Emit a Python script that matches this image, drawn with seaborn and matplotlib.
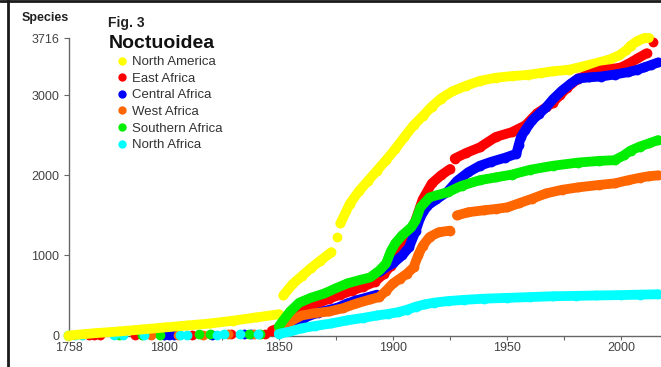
import numpy as np
import pandas as pd
import matplotlib
matplotlib.use("Agg")
import matplotlib.pyplot as plt
from matplotlib.lines import Line2D
import seaborn as sns

nan = np.nan

regions = ["North America", "East Africa", "Central Africa",
           "West Africa", "Southern Africa", "North Africa"]
colors = ["#ffff00", "#ff0000", "#0000ff", "#ff6600", "#00ee00", "#00ffff"]

# Isolated early descriptions (drawn as single dots)
na_early_years, na_early_counts = [], []
ea_early_years = [1767, 1769, 1772, 1787, 1812, 1829, 1844]
ea_early_counts = [3, 5, 7, 9, 12, 15, 22]
ca_early_years = [1800, 1802, 1804, 1821, 1835, 1838]
ca_early_counts = [4, 6, 8, 11, 15, 18]
wa_early_years = [1794, 1806, 1817, 1828, 1839]
wa_early_counts = [5, 8, 12, 16, 22]
sa_early_years = [1780, 1790, 1798, 1815, 1820, 1837, 1842]
sa_early_counts = [4, 7, 9, 13, 15, 20, 24]
nf_early_years = [1758, 1761, 1764, 1778, 1782, 1791, 1807, 1810, 1823, 1826,
                  1833, 1841]
nf_early_counts = [1, 2, 3, 5, 6, 7, 9, 10, 12, 13, 14, 17]

# Cumulative species counts; nan marks a break in the run
na_years = [1758, 1770, 1780, 1790, 1800, 1810, 1820, 1830, 1840, 1850, nan,
            1852, 1856, 1860, 1864, 1868, 1873, nan, 1875.5, nan,
            1877, 1881, 1885, 1889, 1893, 1897, 1901, 1905, 1909, 1913, 1917,
            1921, 1926, 1932, 1938, 1945, 1952, 1959, 1965, 1970, 1977, 1983,
            1990, 1995, 1999, 2002, 2004, 2007, 2010, 2012]
na_counts = [0, 30, 50, 75, 100, 125, 150, 185, 225, 265, nan,
             500, 640, 740, 840, 930, 1040, nan, 1225, nan,
             1400, 1640, 1800, 1930, 2060, 2190, 2330, 2480, 2625, 2740, 2860,
             2960, 3050, 3120, 3180, 3220, 3240, 3255, 3280, 3300, 3320, 3360,
             3410, 3450, 3500, 3560, 3620, 3680, 3716, 3716]

ea_years = [1847, 1850, 1853, 1857, 1862, 1867, 1872, 1877, 1882, 1887, 1892,
            1896, 1899, 1902, 1905, 1908, 1910, 1913, 1917, 1921, 1925, nan,
            1927, 1932, 1938, 1945, 1952, 1958, 1963, 1967, 1970, 1973, 1976,
            1981, 1986, 1991, 1996, 2000, 2004, 2007, 2011, nan, 2014]
ea_counts = [60, 90, 170, 240, 320, 400, 460, 510, 560, 610, 670,
             770, 870, 980, 1110, 1270, 1450, 1700, 1900, 2000, 2080, nan,
             2210, 2280, 2350, 2480, 2540, 2625, 2775, 2850, 2910, 3000, 3090,
             3210, 3260, 3310, 3330, 3350, 3410, 3460, 3525, nan, 3660]

ca_years = [1852, 1856, 1861, 1867, 1872, 1876, 1880, 1884, 1888, 1893, nan,
            1894, 1897, 1900, 1904, 1907, 1910, 1912, 1915, 1919, 1924, 1928,
            1933, 1938, 1943, 1949, 1954, 1955, 1956, 1958, 1961, 1964, 1967,
            1970, 1974, 1978, 1981, 1986, 1991, 1997, 2003, 2007, 2010, 2013,
            2016]
ca_counts = [50, 130, 220, 285, 320, 350, 400, 440, 470, 510, nan,
             790, 850, 900, 1000, 1100, 1310, 1480, 1620, 1700, 1800, 1930,
             2040, 2120, 2170, 2220, 2270, 2380, 2480, 2570, 2690, 2770, 2850,
             2950, 3060, 3150, 3210, 3225, 3235, 3260, 3290, 3320, 3350, 3380,
             3410]

wa_years = [1850, 1853, 1856, 1860, 1866, 1872, 1878, 1884, 1890, 1894, 1897,
            1900, 1903, 1906, 1909, 1911, 1913, 1916, 1920, 1925, nan,
            1928, 1933, 1940, 1945, 1950, 1955, 1961, 1967, 1974, 1981, 1990,
            1997, 2003, 2008, 2012, 2016]
wa_counts = [60, 110, 190, 250, 280, 300, 340, 400, 450, 480, 560,
             650, 710, 770, 850, 1000, 1120, 1230, 1290, 1310, nan,
             1500, 1540, 1565, 1580, 1600, 1650, 1710, 1775, 1820, 1850, 1880,
             1900, 1940, 1970, 1990, 2000]

sa_years = [1850, 1852, 1855, 1859, 1864, 1870, 1875, 1880, 1885, 1890, 1894,
            1897, 1899, 1901, 1904, 1908, 1910, 1912, 1916, 1919, 1924, 1930,
            1938, 1945, 1952, 1960, 1970, 1981, 1990, 1997, 2001, 2004, 2008,
            2012, 2016]
sa_counts = [110, 190, 300, 410, 470, 525, 590, 650, 690, 725, 810,
             900, 1050, 1150, 1250, 1350, 1440, 1600, 1725, 1750, 1790, 1870,
             1940, 1975, 2010, 2070, 2120, 2160, 2180, 2190, 2250, 2310, 2360,
             2400, 2440]

nf_years = [1850, 1855, 1860, 1866, 1873, 1880, 1887, 1893, 1898, 1902, 1906,
            1910, 1914, 1918, 1924, 1931, 1940, 1950, 1960, 1970, 1980, 1989,
            2000, 2008, 2016]
nf_counts = [20, 50, 90, 120, 150, 190, 220, 250, 270, 290, 320,
             360, 390, 410, 430, 445, 460, 470, 480, 490, 495, 500,
             505, 510, 515]

x_ticks = [1758, 1800, 1825, 1850, 1875, 1900, 1925, 1950, 1975, 2000]
x_tick_labels = ["1758", "1800", "", "1850", "", "1900", "", "1950", "", "2000"]
y_ticks = [0, 1000, 2000, 3000, 3716]

series = {
    "North America": (na_early_years, na_early_counts, na_years, na_counts),
    "East Africa": (ea_early_years, ea_early_counts, ea_years, ea_counts),
    "Central Africa": (ca_early_years, ca_early_counts, ca_years, ca_counts),
    "West Africa": (wa_early_years, wa_early_counts, wa_years, wa_counts),
    "Southern Africa": (sa_early_years, sa_early_counts, sa_years, sa_counts),
    "North Africa": (nf_early_years, nf_early_counts, nf_years, nf_counts),
}

sns.set_theme(style="white")
plt.rcParams["font.family"] = ["Liberation Sans", "DejaVu Sans"]

W, H = 661, 367
fig = plt.figure(figsize=(W / 100, H / 100), dpi=100)
ax = fig.add_axes([68.5 / W, 31.5 / H, 592.5 / W, 297.5 / H])

dot_px = 9.8
lw_pt = dot_px * 72 / 100
dot_s = lw_pt ** 2

for region, color in zip(regions, colors):
    ey, ec, ry, rc = series[region]
    ry = np.asarray(ry, dtype=float)
    rc = np.asarray(rc, dtype=float)
    seg = np.cumsum(np.isnan(ry))
    run = pd.DataFrame({"year": ry, "species": rc, "segment": seg}).dropna()
    sns.lineplot(data=run, x="year", y="species", units="segment",
                 estimator=None, sort=False, color=color, linewidth=lw_pt,
                 solid_capstyle="round", legend=False, ax=ax, clip_on=False)
    dots = pd.DataFrame({"year": list(ey) + list(run["year"]),
                         "species": list(ec) + list(run["species"])})
    sns.scatterplot(data=dots, x="year", y="species", color=color, s=dot_s,
                    linewidth=0, legend=False, ax=ax, clip_on=False)

ax.set_xlim(1758, 2017.3)
ax.set_ylim(0, 3716)
ax.set_xticks(x_ticks)
ax.set_xticklabels(x_tick_labels)
ax.set_yticks(y_ticks)
ax.set_yticklabels([str(v) for v in y_ticks])
ax.set_xlabel("")
ax.set_ylabel("")

for side in ("top", "right"):
    ax.spines[side].set_visible(False)
for side in ("left", "bottom"):
    ax.spines[side].set_color("#666666")
    ax.spines[side].set_linewidth(1.0)
    ax.spines[side].set_zorder(0.5)

ax.tick_params(axis="x", direction="out", length=3, width=0.8, color="#666666",
               labelsize=9, labelcolor="#444444", pad=2, bottom=True)
ax.tick_params(axis="y", direction="out", length=3.5, width=0.8, color="#666666",
               labelsize=9, labelcolor="#444444", pad=3, left=True)

fig.text(45 / W, 1 - 18 / H, "Species", ha="center", va="center",
         fontsize=9, fontweight="bold", color="#222222")
fig.text(108 / W, 1 - 23 / H, "Fig. 3", ha="left", va="center",
         fontsize=10, fontweight="bold", color="#222222")
fig.text(108.5 / W, 1 - 43 / H, "Noctuoidea", ha="left", va="center",
         fontsize=14, fontweight="bold", color="#111111")

handles = [Line2D([], [], marker="o", linestyle="", markersize=6.0,
                  markerfacecolor=c, markeredgewidth=0) for c in colors]
leg = ax.legend(handles, regions, loc="upper left",
                bbox_to_anchor=(116.5 / W, 1 - 56 / H),
                bbox_transform=fig.transFigure, frameon=False, fontsize=9.5,
                borderpad=0, borderaxespad=0, handlelength=0.8,
                handletextpad=0.36, labelspacing=0.33)
for t in leg.get_texts():
    t.set_color("#333333")

# dark frame along the top and left edges
fig.add_artist(Line2D([7.5 / W, 7.5 / W], [0, 1], transform=fig.transFigure,
                      color="#1a1a1a", linewidth=2.0))
fig.add_artist(Line2D([0, 1], [1 - 1.2 / H, 1 - 1.2 / H], transform=fig.transFigure,
                      color="#1a1a1a", linewidth=2.0))

fig.savefig("out.png", dpi=100)
